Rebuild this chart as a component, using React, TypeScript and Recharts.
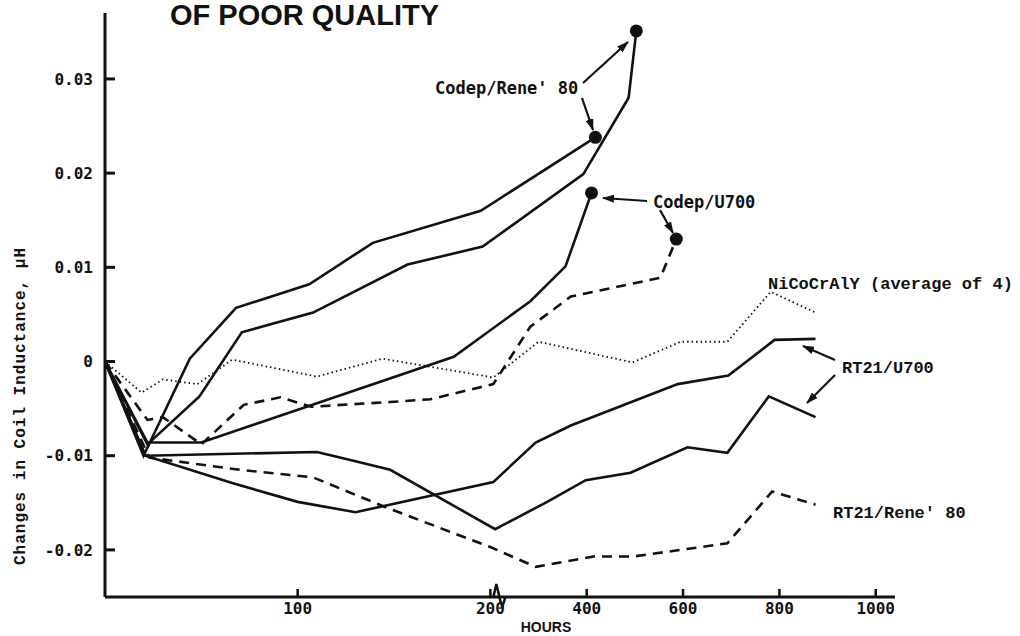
import React from "react";
import { LineChart, Line, XAxis, YAxis } from "recharts";

// x axis is broken at 200 h: 0-200 drawn at full scale, 200-1000 compressed 4x
const BREAK_AT = 200;
const COMPRESS = 4;
const toPos = (h: number) => (h <= BREAK_AT ? h : BREAK_AT + (h - BREAK_AT) / COMPRESS);
const toHours = (p: number) => (p <= BREAK_AT ? p : BREAK_AT + (p - BREAK_AT) * COMPRESS);

const xTickHours = [100, 200, 400, 600, 800, 1000];
const yTicks = [-0.02, -0.01, 0, 0.01, 0.02, 0.03];

// Codep/Rene' 80 (two specimens)
const codepReneAHours = [0, 20, 44, 68, 106, 139, 195, 418];
const codepReneAValues = [0, -0.01, 0.0003, 0.0057, 0.0082, 0.0126, 0.016, 0.0238];
const codepReneBHours = [0, 22, 49, 71, 108, 157, 196, 393, 487, 503];
const codepReneBValues = [0, -0.0088, -0.0037, 0.0031, 0.0052, 0.0103, 0.0122, 0.0199, 0.028, 0.0351];

// Codep/U700 (solid and dashed specimens)
const codepU700Hours = [0, 22, 50, 181, 283, 356, 410];
const codepU700Values = [0, -0.0086, -0.0086, 0.0005, 0.0064, 0.0101, 0.0179];
const codepU700bHours = [0, 22, 30, 50, 72, 91, 107, 148, 169, 206, 283, 367, 553, 586];
const codepU700bValues = [0, -0.0062, -0.0059, -0.0088, -0.0046, -0.0038, -0.0048, -0.0043, -0.004, -0.0024, 0.0037, 0.0069, 0.0089, 0.013];

// NiCoCrAlY (average of 4)
const nicoHours = [0, 19, 30, 48, 66, 110, 144, 206, 300, 495, 595, 692, 782, 875];
const nicoValues = [0, -0.0033, -0.0019, -0.0024, 0.0002, -0.0016, 0.0003, -0.0017, 0.0021, -0.0001, 0.0021, 0.0021, 0.0074, 0.0052];

// RT21/U700 (two specimens)
const rtU700aHours = [0, 21, 66, 100, 130, 206, 294, 367, 589, 694, 790, 875];
const rtU700aValues = [0, -0.01, -0.0129, -0.0149, -0.016, -0.0128, -0.0086, -0.0068, -0.0024, -0.0015, 0.0023, 0.0024];
const rtU700bHours = [0, 21, 110, 130, 148, 210, 318, 398, 491, 609, 692, 778, 875];
const rtU700bValues = [0, -0.01, -0.0096, -0.0106, -0.0115, -0.0178, -0.0149, -0.0126, -0.0118, -0.0091, -0.0097, -0.0037, -0.0059];

// RT21/Rene' 80
const rtReneHours = [0, 23, 70, 108, 146, 200, 294, 414, 497, 595, 692, 785, 875];
const rtReneValues = [0, -0.0102, -0.0115, -0.0123, -0.0155, -0.0197, -0.0218, -0.0207, -0.0207, -0.02, -0.0193, -0.0138, -0.0152];

const toData = (hours: number[], values: number[]) =>
  hours.map((h, i) => ({ pos: toPos(h), value: values[i] }));

type Style = "solid" | "dashed" | "dotted";
const series: { key: string; hours: number[]; values: number[]; style: Style; endDot?: boolean }[] = [
  { key: "codepReneA", hours: codepReneAHours, values: codepReneAValues, style: "solid", endDot: true },
  { key: "codepReneB", hours: codepReneBHours, values: codepReneBValues, style: "solid", endDot: true },
  { key: "codepU700", hours: codepU700Hours, values: codepU700Values, style: "solid", endDot: true },
  { key: "codepU700b", hours: codepU700bHours, values: codepU700bValues, style: "dashed", endDot: true },
  { key: "nico", hours: nicoHours, values: nicoValues, style: "dotted" },
  { key: "rtU700a", hours: rtU700aHours, values: rtU700aValues, style: "solid" },
  { key: "rtU700b", hours: rtU700bHours, values: rtU700bValues, style: "solid" },
  { key: "rtRene", hours: rtReneHours, values: rtReneValues, style: "dashed" },
];

const INK = "#111";
const MONO = "'DejaVu Sans Mono', monospace";
const SLAB = "'Liberation Mono', monospace";

const fmtY = (v: number) => (v === 0 ? "0" : v.toFixed(2));

const YTick = (props: any) => {
  const { x, y, payload } = props;
  return (
    <g>
      <line x1={x} y1={y} x2={x + 10} y2={y} stroke={INK} strokeWidth={3} />
      <text x={x - 12} y={y} dy="0.36em" textAnchor="end" fontFamily={MONO} fontWeight="bold" fontSize={16} fill={INK}>
        {fmtY(payload.value)}
      </text>
    </g>
  );
};

const XTick = (props: any) => {
  const { x, y, payload } = props;
  const hours = Math.round(toHours(payload.value));
  return (
    <g>
      <line x1={x} y1={y} x2={x} y2={y - 8} stroke={INK} strokeWidth={2.5} />
      {hours === BREAK_AT && (
        <path
          d={`M${x + 3},${y} L${x + 6},${y - 13} L${x + 10},${y + 4} L${x + 12},${y + 10} L${x + 15},${y}`}
          fill="none"
          stroke={INK}
          strokeWidth={2.5}
        />
      )}
      <text x={x} y={y + 17} textAnchor="middle" fontFamily={MONO} fontWeight="bold" fontSize={16} fill={INK}>
        {hours}
      </text>
    </g>
  );
};

const endDot = (count: number) => (props: any) => {
  const { cx, cy, index } = props;
  if (index !== count - 1) return <g key={index} />;
  return <circle key={index} cx={cx} cy={cy} r={6.5} fill={INK} />;
};

const Arrow = ({ x1, y1, x2, y2 }: { x1: number; y1: number; x2: number; y2: number }) => (
  <line x1={x1} y1={y1} x2={x2} y2={y2} stroke={INK} strokeWidth={2.2} markerEnd="url(#head)" />
);

export default function App() {
  return (
    <div style={{ position: "absolute", left: 0, top: 0, width: 1020, height: 636, background: "#fff" }}>
      <LineChart width={1020} height={636} margin={{ top: 13, right: 125, bottom: 9, left: 0 }}>
        <XAxis
          type="number"
          dataKey="pos"
          domain={[0, 410]}
          ticks={xTickHours.map(toPos)}
          allowDataOverflow
          height={30}
          tickSize={0}
          tickMargin={0}
          tickLine={false}
          axisLine={{ stroke: INK, strokeWidth: 3 }}
          tick={<XTick />}
        />
        <YAxis
          type="number"
          domain={[-0.025, 0.037]}
          ticks={yTicks}
          allowDataOverflow
          width={105}
          tickSize={0}
          tickMargin={0}
          tickLine={false}
          axisLine={{ stroke: INK, strokeWidth: 3 }}
          tick={<YTick />}
        />
        {series.map((s) => (
          <Line
            key={s.key}
            data={toData(s.hours, s.values)}
            dataKey="value"
            type="linear"
            stroke={INK}
            strokeWidth={s.style === "dotted" ? 1.8 : 2.6}
            strokeDasharray={s.style === "dashed" ? "10 7" : s.style === "dotted" ? "1.5 3" : undefined}
            dot={s.endDot ? endDot(s.hours.length) : false}
            activeDot={false}
            isAnimationActive={false}
          />
        ))}
      </LineChart>
      <svg width={1020} height={636} style={{ position: "absolute", left: 0, top: 0, pointerEvents: "none" }}>
        <defs>
          <marker id="head" viewBox="0 0 12 8" refX="11" refY="4" markerWidth="12" markerHeight="8" orient="auto" markerUnits="userSpaceOnUse">
            <path d="M0,0 L12,4 L0,8 z" fill={INK} />
          </marker>
        </defs>
        <text x={170} y={25} fontFamily="'Liberation Sans', Arial, sans-serif" fontWeight="bold" fontSize={29} fill={INK}>
          OF POOR QUALITY
        </text>
        <text
          transform="translate(19,406) rotate(-90)"
          textAnchor="middle"
          dy="0.35em"
          fontFamily={SLAB}
          fontWeight="bold"
          fontSize={16}
          letterSpacing={1}
          fill={INK}
        >
          Changes in Coil Inductance, μH
        </text>
        <text x={546} y={632} textAnchor="middle" fontFamily="'Liberation Sans', Arial, sans-serif" fontWeight="bold" fontSize={14} fill={INK}>
          HOURS
        </text>

        <text x={435} y={94} fontFamily={MONO} fontWeight="bold" fontSize={17} fill={INK}>
          Codep/Rene' 80
        </text>
        <Arrow x1={583} y1={83} x2={628} y2={42} />
        <Arrow x1={582} y1={98} x2={593} y2={130} />

        <text x={653} y={208} fontFamily={MONO} fontWeight="bold" fontSize={17} fill={INK}>
          Codep/U700
        </text>
        <Arrow x1={647} y1={201} x2={603} y2={198} />
        <Arrow x1={660} y1={210} x2={673} y2={233} />

        <text x={768} y={289} fontFamily={SLAB} fontWeight="bold" fontSize={17} fill={INK}>
          NiCoCrAlY (average of 4)
        </text>

        <text x={842} y={373} fontFamily={SLAB} fontWeight="bold" fontSize={17} fill={INK}>
          RT21/U700
        </text>
        <Arrow x1={835} y1={360} x2={803} y2={346} />
        <Arrow x1={835} y1={375} x2={807} y2={403} />

        <text x={833} y={518} fontFamily={SLAB} fontWeight="bold" fontSize={17} fill={INK}>
          RT21/Rene' 80
        </text>
      </svg>
    </div>
  );
}
